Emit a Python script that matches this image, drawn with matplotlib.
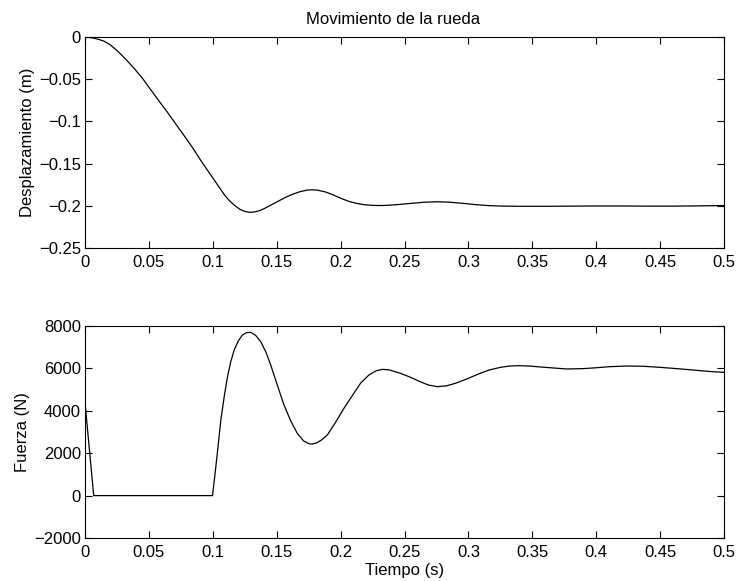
import matplotlib
matplotlib.use("Agg")
import matplotlib.pyplot as plt
import numpy as np

# desplazamiento de la rueda (m) frente al tiempo (s)
t_desp = [0.0, 0.005, 0.010, 0.015, 0.020, 0.026, 0.032, 0.039, 0.045, 0.050,
          0.057, 0.065, 0.071, 0.078, 0.085, 0.0911, 0.1, 0.105, 0.109, 0.113,
          0.117, 0.121, 0.125, 0.129, 0.133, 0.137, 0.1406, 0.145, 0.150,
          0.156, 0.162, 0.168, 0.1735, 0.1775, 0.182, 0.188, 0.194, 0.200,
          0.206, 0.212, 0.218, 0.225, 0.2313, 0.238, 0.245, 0.2547, 0.265,
          0.2755, 0.285, 0.295, 0.305, 0.315, 0.325, 0.34, 0.36, 0.38, 0.40,
          0.42, 0.44, 0.46, 0.48, 0.5]
desp = [0.0, -0.0008, -0.0025, -0.0050, -0.0095, -0.0174, -0.0265, -0.0382,
        -0.0490, -0.0595, -0.0740, -0.0902, -0.1030, -0.1178, -0.1330,
        -0.1474, -0.1670, -0.1780, -0.1868, -0.1940, -0.1994, -0.2040,
        -0.2066, -0.2078, -0.2072, -0.2055, -0.2030, -0.1995, -0.1955,
        -0.1907, -0.1865, -0.1834, -0.1815, -0.1810, -0.1815, -0.1835,
        -0.1870, -0.1910, -0.1945, -0.1970, -0.1986, -0.1995, -0.1997,
        -0.1993, -0.1985, -0.1972, -0.1958, -0.1952, -0.1957, -0.1970,
        -0.1985, -0.1997, -0.2003, -0.2006, -0.2006, -0.2004, -0.2002,
        -0.2002, -0.2004, -0.2004, -0.2001, -0.1997]

# fuerza (N) frente al tiempo (s)
t_fuerza = [0.0, 0.0068, 0.0998, 0.1030, 0.1063, 0.109, 0.1115, 0.1140,
            0.1167, 0.1200, 0.1232, 0.1265, 0.1297, 0.1335, 0.1375, 0.1415,
            0.1453, 0.150, 0.1557, 0.161, 0.1661, 0.171, 0.1755, 0.1779,
            0.181, 0.185, 0.1896, 0.196, 0.2026, 0.209, 0.2156, 0.222, 0.2275,
            0.2326, 0.238, 0.2469, 0.2547, 0.262, 0.2685, 0.2755, 0.283, 0.290,
            0.3, 0.308, 0.316, 0.325, 0.332, 0.3393, 0.348, 0.36, 0.377, 0.39,
            0.40, 0.41, 0.424, 0.437, 0.45, 0.465, 0.48, 0.49, 0.5]
fuerza = [4400, 0, 0, 1700, 3566, 4700, 5610, 6300, 6868, 7300, 7575, 7690,
          7701, 7560, 7261, 6780, 6160, 5300, 4274, 3520, 2937, 2580, 2440,
          2434, 2480, 2620, 2858, 3450, 4116, 4700, 5300, 5680, 5880, 5956,
          5930, 5767, 5580, 5380, 5220, 5138, 5180, 5300, 5531, 5740, 5920,
          6050, 6110, 6129, 6110, 6050, 5972, 5990, 6030, 6080, 6113, 6100,
          6050, 5980, 5900, 5850, 5814]

xticks = np.arange(0, 0.51, 0.05)
xlabels = ["0", "0.05", "0.1", "0.15", "0.2", "0.25", "0.3", "0.35", "0.4",
           "0.45", "0.5"]

plt.rcParams["font.family"] = ["Liberation Sans", "DejaVu Sans"]
plt.rcParams["font.size"] = 12
plt.rcParams["axes.linewidth"] = 0.8
plt.rcParams["xtick.direction"] = "in"
plt.rcParams["ytick.direction"] = "in"
plt.rcParams["xtick.top"] = True
plt.rcParams["ytick.right"] = True
plt.rcParams["xtick.major.size"] = 5
plt.rcParams["ytick.major.size"] = 5
plt.rcParams["xtick.major.pad"] = 5
plt.rcParams["ytick.major.pad"] = 3

fig = plt.figure(figsize=(7.37, 5.81), dpi=100)
ax1 = fig.add_axes([85 / 737, 1 - 248 / 581, 639 / 737, 211 / 581])
ax2 = fig.add_axes([85 / 737, 1 - 538 / 581, 639 / 737, 212 / 581])

ax1.plot(t_desp, desp, color="black", linewidth=0.9)
ax1.set_xlim(0, 0.5)
ax1.set_ylim(-0.25, 0)
ax1.set_xticks(xticks)
ax1.set_xticklabels(xlabels)
ax1.set_yticks([-0.25, -0.2, -0.15, -0.1, -0.05, 0])
ax1.set_yticklabels(["\u22120.25", "\u22120.2", "\u22120.15", "\u22120.1",
                     "\u22120.05", "0"])
ax1.set_ylabel("Desplazamiento (m)", labelpad=3)
ax1.set_title("Movimiento de la rueda", fontsize=12, pad=9,
              x=(393 - 85) / 639)

ax2.plot(t_fuerza, fuerza, color="black", linewidth=0.9)
ax2.set_xlim(0, 0.5)
ax2.set_ylim(-2000, 8000)
ax2.set_xticks(xticks)
ax2.set_xticklabels(xlabels)
ax2.set_yticks([-2000, 0, 2000, 4000, 6000, 8000])
ax2.set_yticklabels(["\u22122000", "0", "2000", "4000", "6000", "8000"])
ax2.set_ylabel("Fuerza (N)", labelpad=3)
ax2.set_xlabel("Tiempo (s)", labelpad=2)

fig.savefig("out.png", dpi=100)
